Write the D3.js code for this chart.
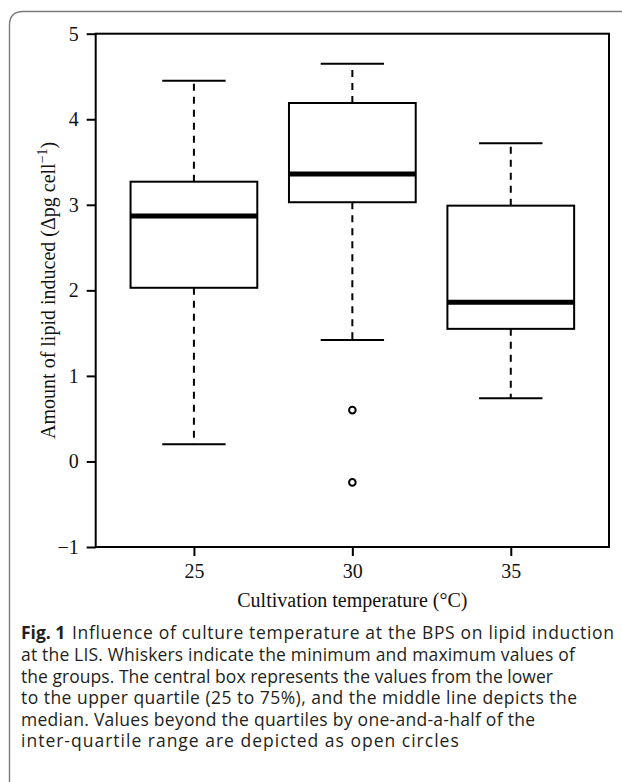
<!DOCTYPE html>
<html>
<head>
<meta charset="utf-8">
<script src="https://cdn.jsdelivr.net/npm/d3@7"></script>
<style>
  html, body { margin: 0; padding: 0; background: #fff; }
  svg { display: block; }
</style>
</head>
<body>
<svg id="chart" width="622" height="782"></svg>
<script>
// ---- data ----
const categories = ["25", "30", "35"];
const whiskerLow  = [0.20, 1.42, 0.74];
const q1          = [2.03, 3.03, 1.55];
const medians     = [2.87, 3.36, 1.86];
const q3          = [3.27, 4.19, 2.99];
const whiskerHigh = [4.45, 4.65, 3.72];
const outliers    = [[], [0.60, -0.245], []];
const yTicks      = [-1, 0, 1, 2, 3, 4, 5];

const xLabel = "Cultivation temperature (°C)";
const captionBold = "Fig. 1";
const captionLines = [
  "Influence of culture temperature at the BPS on lipid induction",
  "at the LIS. Whiskers indicate the minimum and maximum values of",
  "the groups. The central box represents the values from the lower",
  "to the upper quartile (25 to 75%), and the middle line depicts the",
  "median. Values beyond the quartiles by one-and-a-half of the",
  "inter-quartile range are depicted as open circles"
];

// ---- layout ----
const svg = d3.select("#chart");
const L = 95.7, R = 609, T = 33.7, B = 547;
const serif = "'Liberation Serif', 'Times New Roman', Times, serif";
const sans = "'Open Sans', 'Noto Sans', sans-serif";

// frame border (rounded top-left)
svg.append("path")
  .attr("d", `M9.5,782 L9.5,25 Q9.5,11.5 23,11.5 L622,11.5`)
  .attr("fill", "none").attr("stroke", "#7a7a7a").attr("stroke-width", 1.4);

const x = d3.scaleLinear().domain([0.38, 3.62]).range([L, R]);
const y = d3.scaleLinear().domain([-1, 5]).range([B, T]);

const g = svg.append("g");

// axes
const yAxis = g.append("g").attr("transform", `translate(${L},0)`)
  .call(d3.axisLeft(y).tickValues(yTicks).tickFormat(d3.format("d"))
        .tickSize(9).tickPadding(8).tickSizeOuter(0));
const xAxis = g.append("g").attr("transform", `translate(0,${B})`)
  .call(d3.axisBottom(x).tickValues([1, 2, 3]).tickFormat((d, i) => categories[i])
        .tickSize(9).tickPadding(8).tickSizeOuter(0));
[yAxis, xAxis].forEach(a => {
  a.select(".domain").remove();
  a.selectAll("line").attr("stroke", "#000").attr("stroke-width", 2);
  a.selectAll("text").attr("font-family", serif).attr("font-size", 20).attr("fill", "#111");
});

// plot box
g.append("rect").attr("x", L).attr("y", T).attr("width", R - L).attr("height", B - T)
  .attr("fill", "none").attr("stroke", "#000").attr("stroke-width", 2);

// boxes
const boxHalf = 0.4, stapleHalf = 0.2;
categories.forEach((c, i) => {
  const cx = x(i + 1);
  const bg = g.append("g");
  bg.append("line").attr("x1", cx).attr("x2", cx).attr("y1", y(q3[i])).attr("y2", y(whiskerHigh[i]))
    .attr("stroke", "#000").attr("stroke-width", 2).attr("stroke-dasharray", "7,6");
  bg.append("line").attr("x1", cx).attr("x2", cx).attr("y1", y(q1[i])).attr("y2", y(whiskerLow[i]))
    .attr("stroke", "#000").attr("stroke-width", 2).attr("stroke-dasharray", "7,6");
  [whiskerHigh[i], whiskerLow[i]].forEach(v => {
    bg.append("line").attr("x1", x(i + 1 - stapleHalf)).attr("x2", x(i + 1 + stapleHalf))
      .attr("y1", y(v)).attr("y2", y(v)).attr("stroke", "#000").attr("stroke-width", 2);
  });
  bg.append("rect").attr("x", x(i + 1 - boxHalf)).attr("y", y(q3[i]))
    .attr("width", x(i + 1 + boxHalf) - x(i + 1 - boxHalf)).attr("height", y(q1[i]) - y(q3[i]))
    .attr("fill", "#fff").attr("stroke", "#000").attr("stroke-width", 2);
  bg.append("line").attr("x1", x(i + 1 - boxHalf)).attr("x2", x(i + 1 + boxHalf))
    .attr("y1", y(medians[i])).attr("y2", y(medians[i]))
    .attr("stroke", "#000").attr("stroke-width", 5);
  outliers[i].forEach(v => {
    bg.append("circle").attr("cx", cx).attr("cy", y(v)).attr("r", 3.3)
      .attr("fill", "none").attr("stroke", "#000").attr("stroke-width", 2);
  });
});

// axis titles
svg.append("text").attr("x", x(2)).attr("y", 607).attr("text-anchor", "middle")
  .attr("font-family", serif).attr("font-size", 20).attr("fill", "#111").text(xLabel);

const yl = svg.append("text").attr("transform", `translate(55,${(T + B) / 2}) rotate(-90)`)
  .attr("text-anchor", "middle").attr("font-family", serif).attr("font-size", 20).attr("fill", "#111");
yl.append("tspan").text("Amount of lipid induced (Δpg cell");
yl.append("tspan").attr("dy", -8).attr("font-size", 14).text("−1");
yl.append("tspan").attr("dy", 8).text(")");

// caption
const capY0 = 639.3, capStep = 21.6;
const capEnd = [614, 575, 553, 577, 535, 482];
const capSize = 17.5;
svg.append("text").attr("x", 21).attr("y", capY0).attr("font-family", sans)
  .attr("font-weight", "bold").attr("font-size", capSize).attr("fill", "#231f20").text(captionBold);
captionLines.forEach((t, i) => {
  const x0 = i === 0 ? 72 : 21;
  const txt = svg.append("text").attr("x", x0).attr("y", capY0 + i * capStep)
    .attr("font-family", sans).attr("font-size", capSize).attr("fill", "#231f20").text(t);
  const natural = txt.node().getComputedTextLength();
  const ls = (capEnd[i] - x0 - natural) / Math.max(1, t.length - 1);
  txt.attr("letter-spacing", Math.max(-1, Math.min(1, ls)).toFixed(3));
});
</script>
</body>
</html>
